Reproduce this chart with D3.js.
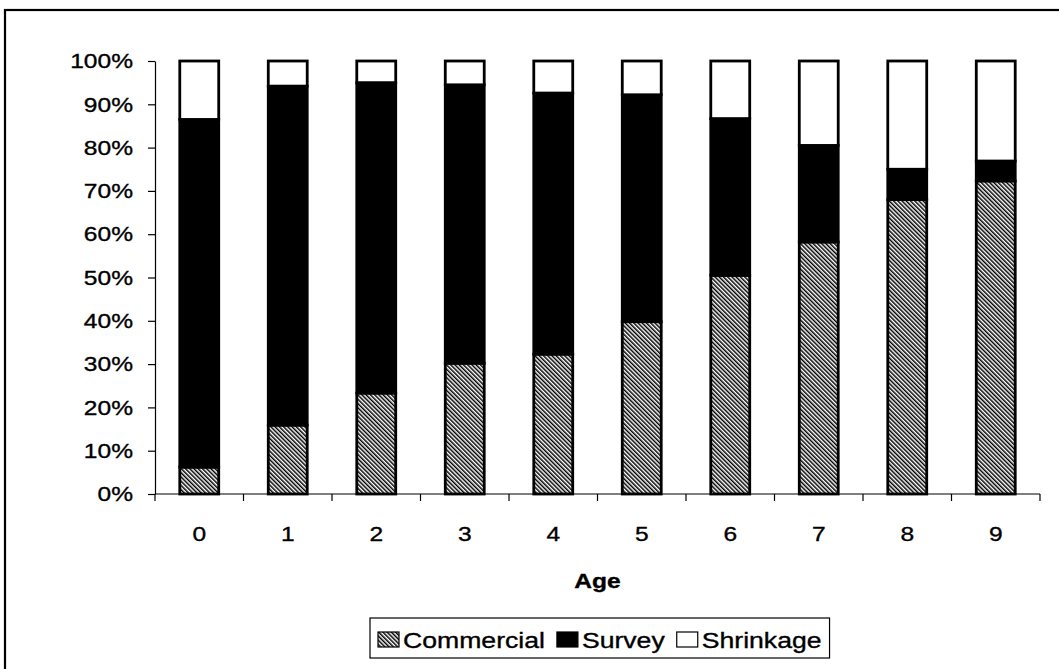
<!DOCTYPE html>
<html>
<head>
<meta charset="utf-8">
<script src="https://cdn.jsdelivr.net/npm/d3@7"></script>
<style>
  html, body { margin: 0; background: #fff; overflow: hidden; }
  svg { display: block; }
  text { font-family: "Liberation Sans", Arial, sans-serif; fill: #000; stroke: #000; stroke-width: 0.35; }
</style>
</head>
<body>
<svg id="chart" width="1059" height="669"></svg>
<script>
// Share of catch at age by source (percent of total)
const ages = ["0", "1", "2", "3", "4", "5", "6", "7", "8", "9"];
const commercial = [6.2, 15.9, 23.3, 30.2, 32.3, 39.8, 50.5, 58.2, 68.0, 72.3];
const survey     = [80.3, 78.3, 71.7, 64.3, 60.3, 52.4, 36.2, 22.3, 7.0, 4.6];
const shrinkage  = [13.5, 5.8, 5.0, 5.5, 7.4, 7.8, 13.3, 19.5, 25.0, 23.1];
const seriesNames = ["Commercial", "Survey", "Shrinkage"];
const yTicks = [0, 10, 20, 30, 40, 50, 60, 70, 80, 90, 100];

const SX = 1.17;      // horizontal stretch of the axis lettering
const SX_LEG = 1.21;  // horizontal stretch of the legend lettering
const svg = d3.select("#chart");

// hatch pattern for the commercial share
const defs = svg.append("defs");
const pat = defs.append("pattern")
  .attr("id", "hatch")
  .attr("patternUnits", "userSpaceOnUse")
  .attr("width", 3).attr("height", 3)
  .attr("patternTransform", "rotate(-45)");
pat.append("rect").attr("width", 3).attr("height", 3).attr("fill", "#fff");
pat.append("line").attr("x1", 0.75).attr("x2", 0.75).attr("y1", 0).attr("y2", 3)
  .attr("stroke", "#000").attr("stroke-width", 1.5);

const fills = { Commercial: "url(#hatch)", Survey: "#000", Shrinkage: "#fff" };

// outer chart frame (right and bottom edges run off the page)
svg.append("rect")
  .attr("x", 5).attr("y", 10).attr("width", 1100).attr("height", 700)
  .attr("fill", "none").attr("stroke", "#000").attr("stroke-width", 2.2);

const plotL = 155, plotR = 1040, plotT = 61, plotB = 494;

const x = d3.scaleBand().domain(ages).range([plotL, plotR])
  .paddingInner(0.56).paddingOuter(0.28);
const y = d3.scaleLinear().domain([0, 100]).range([plotB, plotT]);

const rows = ages.map((a, i) => ({
  age: a, Commercial: commercial[i], Survey: survey[i], Shrinkage: shrinkage[i]
}));
const stacked = d3.stack().keys(seriesNames)(rows);

// bars
const g = svg.append("g");
stacked.forEach(layer => {
  g.append("g").selectAll("rect")
    .data(layer)
    .join("rect")
    .attr("x", d => x(d.data.age))
    .attr("width", x.bandwidth())
    .attr("y", d => y(d[1]))
    .attr("height", d => y(d[0]) - y(d[1]))
    .attr("fill", fills[layer.key])
    .attr("stroke", "#000")
    .attr("stroke-width", 2.8);
});

// y axis
const yAxis = svg.append("g")
  .attr("transform", `translate(${plotL},0)`)
  .call(d3.axisLeft(y).tickValues(yTicks).tickFormat(d => d + "%")
    .tickSize(7).tickSizeOuter(0));
yAxis.select(".domain").attr("stroke", "#000").attr("stroke-width", 1.2);
yAxis.selectAll(".tick line").attr("stroke", "#000").attr("stroke-width", 1.2);
yAxis.selectAll(".tick text")
  .attr("font-size", 21)
  .attr("font-family", "Liberation Sans, Arial, sans-serif")
  .attr("x", -22 / SX)
  .attr("transform", `scale(${SX},1)`);

// x axis: labels at band centres, tick marks at band boundaries
const xAxis = svg.append("g")
  .attr("transform", `translate(0,${plotB})`)
  .call(d3.axisBottom(x).tickSize(0).tickPadding(0).tickSizeOuter(0));
xAxis.select(".domain").remove();
xAxis.selectAll(".tick text")
  .attr("font-size", 21)
  .attr("font-family", "Liberation Sans, Arial, sans-serif")
  .attr("dy", null)
  .attr("y", 47)
  .attr("transform", `scale(${SX},1)`);

svg.append("line")
  .attr("x1", plotL).attr("x2", plotR).attr("y1", plotB).attr("y2", plotB)
  .attr("stroke", "#000").attr("stroke-width", 1.2);
const bounds = d3.range(ages.length + 1).map(i => plotL + i * x.step());
svg.append("g").selectAll("line")
  .data(bounds)
  .join("line")
  .attr("x1", d => d).attr("x2", d => d)
  .attr("y1", plotB).attr("y2", plotB + 7)
  .attr("stroke", "#000").attr("stroke-width", 1.2);

// axis title
svg.append("text")
  .attr("transform", `translate(${(plotL + plotR) / 2},588) scale(${SX},1)`)
  .attr("text-anchor", "middle")
  .attr("font-size", 21)
  .attr("font-weight", "bold")
  .text("Age");

// legend
const leg = svg.append("g");
const legBox = leg.append("rect")
  .attr("fill", "#fff").attr("stroke", "#000").attr("stroke-width", 1.2);
let cx = 378;
const baseY = 647.5;
seriesNames.forEach(name => {
  leg.append("rect")
    .attr("x", cx).attr("y", 632).attr("width", 21).attr("height", 15)
    .attr("fill", fills[name]).attr("stroke", "#000").attr("stroke-width", 1.2);
  cx += 25;
  const t = leg.append("text")
    .attr("transform", `translate(${cx},${baseY}) scale(${SX_LEG},1)`)
    .attr("font-size", 22)
    .text(name);
  cx += t.node().getComputedTextLength() * SX_LEG + 12;
});
legBox.attr("x", 370).attr("y", 618).attr("width", cx - 370 - 4).attr("height", 40);
</script>
</body>
</html>
